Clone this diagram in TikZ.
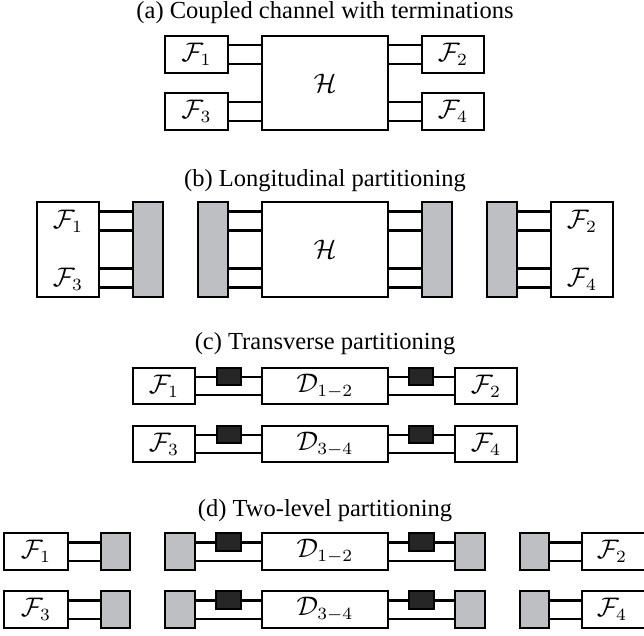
\documentclass[tikz,border=0pt]{standalone}
\usepackage{fontspec}
\setmainfont{Liberation Serif}
\usetikzlibrary{fit,calc}
\definecolor{gfill}{RGB}{190,191,195}
\definecolor{dfill}{RGB}{38,38,38}
% link: y taken from the source box (#1), drawn to the target box (#2)
\newcommand\lnkL[3]{\draw ($(#1.north east)!#3!(#1.south east)$) coordinate (tmp) -- (#2.west |- tmp);}
\begin{document}
\begin{tikzpicture}[x=0.408pt,y=-0.408pt,line width=1pt,
  wbox/.style={draw,fill=white,inner sep=0pt,outer sep=0pt,fit={#1}},
  gbox/.style={draw,fill=gfill,inner sep=0pt,outer sep=0pt,fit={#1}},
  kbox/.style={draw,fill=dfill,inner sep=0pt,outer sep=0pt,fit={#1}},
  title/.style={inner sep=0pt,font=\fontsize{10}{12}\selectfont},
  lab/.style={inner sep=0pt,font=\fontsize{10.5}{12}\selectfont}]
\useasboundingbox (0,0) rectangle (644,635);

% titles
\node[title] (ta) at (325,13) {(a) Coupled channel with terminations};
\node[title] (tb) at (325,181) {(b) Longitudinal partitioning};
\node[title] (tc) at (325,344) {(c) Transverse partitioning};
\node[title] (td) at (325,511) {(d) Two-level partitioning};

% (a)
\node[wbox={(165,36) (228,73)}] (a1) {};
\node[wbox={(165,93) (228,130)}] (a3) {};
\node[wbox={(262,36) (388,130)}] (ah) {};
\node[wbox={(422,36) (484,73)}] (a2) {};
\node[wbox={(422,93) (484,130)}] (a4) {};
\node[lab] (la1) at (a1.center) {$\mathcal{F}_1$};
\node[lab] (la3) at (a3.center) {$\mathcal{F}_3$};
\node[lab] (lah) at (ah.center) {$\mathcal{H}$};
\node[lab] (la2) at (a2.center) {$\mathcal{F}_2$};
\node[lab] (la4) at (a4.center) {$\mathcal{F}_4$};
\lnkL{a1}{ah}{.25} \lnkL{a1}{ah}{.75}
\lnkL{a3}{ah}{.25} \lnkL{a3}{ah}{.75}
\draw ($(a2.north west)!.25!(a2.south west)$) coordinate (tmp) -- (ah.east |- tmp);
\draw ($(a2.north west)!.75!(a2.south west)$) coordinate (tmp) -- (ah.east |- tmp);
\draw ($(a4.north west)!.25!(a4.south west)$) coordinate (tmp) -- (ah.east |- tmp);
\draw ($(a4.north west)!.75!(a4.south west)$) coordinate (tmp) -- (ah.east |- tmp);

% (b)
\node[wbox={(37,202) (99,297)}] (b13) {};
\node[lab] (bl1) at (68,221) {$\mathcal{F}_1$};
\node[lab] (bl3) at (68,279) {$\mathcal{F}_3$};
\node[gbox={(133,202) (163,297)}] (bg1) {};
\node[gbox={(198,202) (228,297)}] (bg2) {};
\node[wbox={(262,202) (388,297)}] (bh) {};
\node[lab] (lbh) at (bh.center) {$\mathcal{H}$};
\node[gbox={(422,202) (452,297)}] (bg3) {};
\node[gbox={(487,202) (517,297)}] (bg4) {};
\node[wbox={(551,202) (613,297)}] (b24) {};
\node[lab] (bl2) at (582,221) {$\mathcal{F}_2$};
\node[lab] (bl4) at (582,279) {$\mathcal{F}_4$};
\foreach \f in {.1,.3,.7,.9}{
  \lnkL{b13}{bg1}{\f}
  \lnkL{bg2}{bh}{\f}
  \lnkL{bh}{bg3}{\f}
  \lnkL{bg4}{b24}{\f}
}

% (c) row 1
\node[wbox={(133,368) (195,404)}] (c1) {};
\node[wbox={(262,368) (388,404)}] (cd1) {};
\node[wbox={(455,368) (517,404)}] (c2) {};
\node[lab] (lc1) at (c1.center) {$\mathcal{F}_1$};
\node[lab] (lcd1) at (cd1.center) {$\mathcal{D}_{1-2}$};
\node[lab] (lc2) at (c2.center) {$\mathcal{F}_2$};
\lnkL{c1}{cd1}{.25} \lnkL{c1}{cd1}{.75}
\lnkL{cd1}{c2}{.25} \lnkL{cd1}{c2}{.75}
\node[kbox={(217,368) (241,385)}] (ck1) {};
\node[kbox={(409,368) (433,385)}] (ck2) {};
% (c) row 2
\node[wbox={(133,426) (195,462)}] (c3) {};
\node[wbox={(262,426) (388,462)}] (cd2) {};
\node[wbox={(455,426) (517,462)}] (c4) {};
\node[lab] (lc3) at (c3.center) {$\mathcal{F}_3$};
\node[lab] (lcd2) at (cd2.center) {$\mathcal{D}_{3-4}$};
\node[lab] (lc4) at (c4.center) {$\mathcal{F}_4$};
\lnkL{c3}{cd2}{.25} \lnkL{c3}{cd2}{.75}
\lnkL{cd2}{c4}{.25} \lnkL{cd2}{c4}{.75}
\node[kbox={(217,426) (241,443)}] (ck3) {};
\node[kbox={(409,426) (433,443)}] (ck4) {};

% (d) row 1
\node[wbox={(4,533) (68,570)}] (d1) {};
\node[gbox={(101,533) (130,570)}] (dg1) {};
\node[gbox={(165,533) (195,570)}] (dg2) {};
\node[wbox={(262,533) (388,570)}] (dd1) {};
\node[gbox={(455,533) (485,570)}] (dg3) {};
\node[gbox={(520,533) (549,570)}] (dg4) {};
\node[wbox={(582,533) (646,570)}] (d2) {};
\node[lab] (ld1) at (d1.center) {$\mathcal{F}_1$};
\node[lab] (ldd1) at (dd1.center) {$\mathcal{D}_{1-2}$};
\node[lab] (ld2) at (612,551.5) {$\mathcal{F}_2$};
\foreach \f in {.25,.75}{
  \lnkL{d1}{dg1}{\f}
  \lnkL{dg2}{dd1}{\f}
  \lnkL{dd1}{dg3}{\f}
  \lnkL{dg4}{d2}{\f}
}
\node[kbox={(216,533) (241,551)}] (dk1) {};
\node[kbox={(409,533) (434,551)}] (dk2) {};
% (d) row 2
\node[wbox={(4,591) (68,628)}] (d3) {};
\node[gbox={(101,591) (130,628)}] (dg5) {};
\node[gbox={(165,591) (195,628)}] (dg6) {};
\node[wbox={(262,591) (388,628)}] (dd2) {};
\node[gbox={(455,591) (485,628)}] (dg7) {};
\node[gbox={(520,591) (549,628)}] (dg8) {};
\node[wbox={(582,591) (646,628)}] (d4) {};
\node[lab] (ld3) at (d3.center) {$\mathcal{F}_3$};
\node[lab] (ldd2) at (dd2.center) {$\mathcal{D}_{3-4}$};
\node[lab] (ld4) at (612,609.5) {$\mathcal{F}_4$};
\foreach \f in {.25,.75}{
  \lnkL{d3}{dg5}{\f}
  \lnkL{dg6}{dd2}{\f}
  \lnkL{dd2}{dg7}{\f}
  \lnkL{dg8}{d4}{\f}
}
\node[kbox={(216,591) (241,609)}] (dk3) {};
\node[kbox={(409,591) (434,609)}] (dk4) {};
\end{tikzpicture}
\end{document}
